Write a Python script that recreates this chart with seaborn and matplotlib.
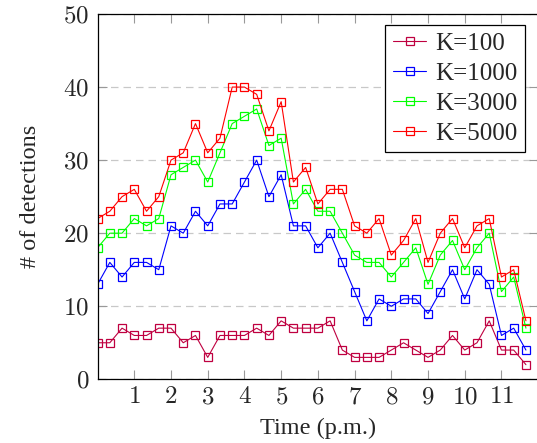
import numpy as np
import pandas as pd
import seaborn as sns
import matplotlib.pyplot as plt

# samples every 20 minutes from noon on
time_pm = np.arange(36) / 3

k100 = [5, 5, 7, 6, 6, 7, 7, 5, 6, 3, 6, 6, 6, 7, 6, 8, 7, 7,
        7, 8, 4, 3, 3, 3, 4, 5, 4, 3, 4, 6, 4, 5, 8, 4, 4, 2]
k1000 = [13, 16, 14, 16, 16, 15, 21, 20, 23, 21, 24, 24, 27, 30, 25, 28, 21, 21,
         18, 20, 16, 12, 8, 11, 10, 11, 11, 9, 12, 15, 11, 15, 13, 6, 7, 4]
k3000 = [18, 20, 20, 22, 21, 22, 28, 29, 30, 27, 31, 35, 36, 37, 32, 33, 24, 26,
         23, 23, 20, 17, 16, 16, 14, 16, 18, 13, 17, 19, 15, 18, 20, 12, 14, 7]
k5000 = [22, 23, 25, 26, 23, 25, 30, 31, 35, 31, 33, 40, 40, 39, 34, 38, 27, 29,
         24, 26, 26, 21, 20, 22, 17, 19, 22, 16, 20, 22, 18, 21, 22, 14, 15, 8]

labels = ["K=100", "K=1000", "K=3000", "K=5000"]
colors = ["#BF0040", "#0000FF", "#00FF00", "#FF0000"]

xticks = list(range(1, 12))
yticks = list(range(0, 51, 10))

sns.set_style("white")
plt.rcParams["font.family"] = ["Liberation Serif", "DejaVu Serif"]
plt.rcParams["mathtext.fontset"] = "cm"

fig = plt.figure(figsize=(5.37, 4.43), dpi=100)
ax = fig.add_axes([0.1817, 0.1438, 0.8205, 0.8246])

for series, lab, col in zip([k100, k1000, k3000, k5000], labels, colors):
    sns.lineplot(x=time_pm, y=series, ax=ax, color=col, label=lab,
                 marker="s", markersize=6, markerfacecolor="none",
                 markeredgecolor=col, markeredgewidth=0.9, linewidth=0.8)

ax.set_xlim(0, 12)
ax.set_ylim(0, 50)
ax.set_xticks(xticks)
ax.set_xticklabels([f"${t}$" for t in xticks])
ax.set_yticks(yticks)
ax.set_yticklabels([f"${t}$" for t in yticks])
ax.yaxis.grid(True, color="#c8c8c8", linestyle=(0, (6, 4)), linewidth=0.9)
ax.xaxis.grid(False)
for s in ax.spines.values():
    s.set_color("black")
    s.set_linewidth(0.9)
ax.tick_params(axis="both", direction="in", length=6.5, width=0.8, color="#999999",
               labelsize=18, top=True, right=True, bottom=True, left=True)
ax.tick_params(axis="x", pad=5)
ax.tick_params(axis="y", pad=6)

ax.set_xlabel("Time (p.m.)", fontsize=17.5, labelpad=7)
ax.set_ylabel("# of detections", fontsize=17.5, labelpad=16)

leg = ax.legend(loc="upper right", bbox_to_anchor=(0.970, 0.970), fontsize=18,
                frameon=True, fancybox=False, edgecolor="black", framealpha=1,
                handlelength=1.35, labelspacing=0.3, borderpad=0.3,
                handletextpad=0.35, borderaxespad=0)
leg.get_frame().set_linewidth(0.9)

fig.savefig("out.png", dpi=100)
